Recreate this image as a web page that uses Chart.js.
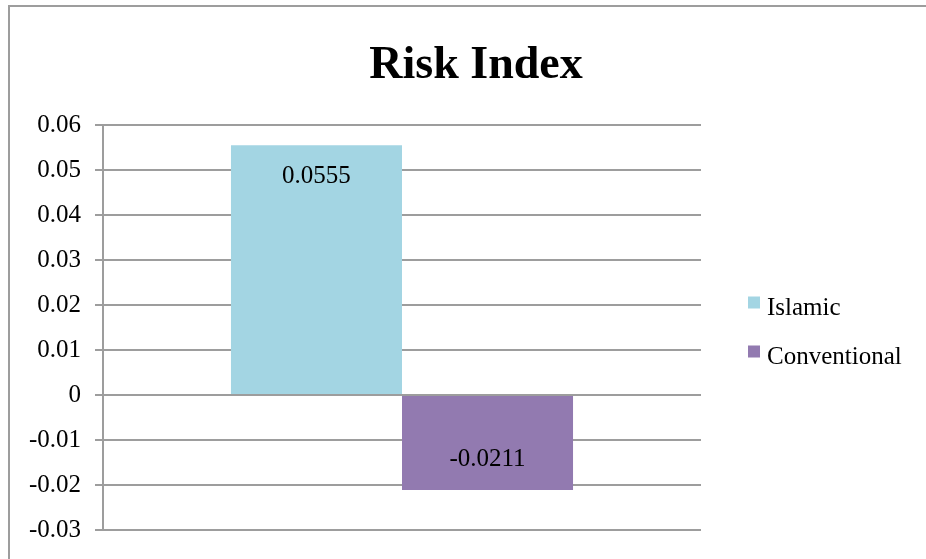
<!DOCTYPE html>
<html>
<head>
<meta charset="utf-8">
<script src="https://cdn.jsdelivr.net/npm/chart.js@4"></script>
<style>
    html, body { margin: 0; padding: 0; background: #fff; }
    #wrap { position: relative; width: 926px; height: 559px; overflow: hidden; }
    #frame { position: absolute; left: 8px; top: 5px; width: 2000px; height: 2000px;
             border-left: 2px solid #9d9d9d; border-top: 2px solid #9d9d9d; }
    canvas { position: absolute; left: 0; top: 0; }
</style>
</head>
<body>
<div id="wrap">
    <div id="frame"></div>
    <canvas id="chart" width="926" height="559"></canvas>
</div>
<script>
// ── Data ──────────────────────────────────────────────────────────────────────
const titleText  = "Risk Index";
const categories = [""];
const seriesNames  = ["Islamic", "Conventional"];
const seriesValues = [[0.0555], [-0.0211]];
const seriesColors = ["#a3d5e3", "#927ab0"];
const yTicks = [-0.03, -0.02, -0.01, 0, 0.01, 0.02, 0.03, 0.04, 0.05, 0.06];

const FONT = "'Liberation Serif', 'Times New Roman', serif";
const GRID = "#9d9d9d";

// title, value labels and legend drawn by hand (Excel look)
const excelBits = {
    id: "excelBits",
    afterDatasetsDraw(chart) {
        const ctx = chart.ctx;
        const area = chart.chartArea;
        ctx.save();

        // title
        ctx.fillStyle = "#000";
        ctx.font = "bold 46px " + FONT;
        ctx.textAlign = "center";
        ctx.textBaseline = "alphabetic";
        ctx.fillText(titleText, 476, 78);

        // value labels, inside end of each bar
        ctx.font = "25px " + FONT;
        ctx.textBaseline = "middle";
        chart.data.datasets.forEach((ds, i) => {
            chart.getDatasetMeta(i).data.forEach((bar, j) => {
                const v = ds.data[j];
                const y = v >= 0 ? bar.y + 31 : bar.y - 31;
                ctx.fillText(v.toFixed(4), bar.x, y);
            });
        });

        // legend
        const cy = (area.top + area.bottom) / 2;
        const lx = area.right + 47;
        ctx.textAlign = "left";
        ctx.textBaseline = "alphabetic";
        seriesNames.forEach((name, i) => {
            const top = cy - 31 + i * 49;
            ctx.fillStyle = seriesColors[i];
            ctx.fillRect(lx, top, 12, 12);
            ctx.fillStyle = "#000";
            ctx.fillText(name, lx + 19, top + 18);
        });

        ctx.restore();
    }
};

new Chart(document.getElementById("chart").getContext("2d"), {
    type: "bar",
    data: {
        labels: categories,
        datasets: seriesNames.map((name, i) => ({
            label: name,
            data: seriesValues[i],
            backgroundColor: seriesColors[i],
            borderWidth: 0,
            categoryPercentage: 0.572,
            barPercentage: 1.0,
        }))
    },
    options: {
        responsive: false,
        animation: false,
        layout: { padding: { top: 125, right: 225, bottom: 26, left: 0 } },
        plugins: {
            legend: { display: false },
            title: { display: false },
            tooltip: { enabled: false }
        },
        scales: {
            x: { display: false },
            y: {
                min: -0.03,
                max: 0.06,
                afterFit: scale => { scale.width = 103; },
                afterBuildTicks: scale => { scale.ticks = yTicks.map(v => ({ value: v })); },
                ticks: {
                    padding: 14,
                    color: "#000",
                    font: { family: FONT, size: 25 },
                    callback: v => v === 0 ? "0" : v.toFixed(2)
                },
                grid: { color: GRID, lineWidth: 2, tickLength: 8, drawTicks: true },
                border: { display: true, color: GRID, width: 2 }
            }
        }
    },
    plugins: [excelBits]
});
</script>
</body>
</html>
